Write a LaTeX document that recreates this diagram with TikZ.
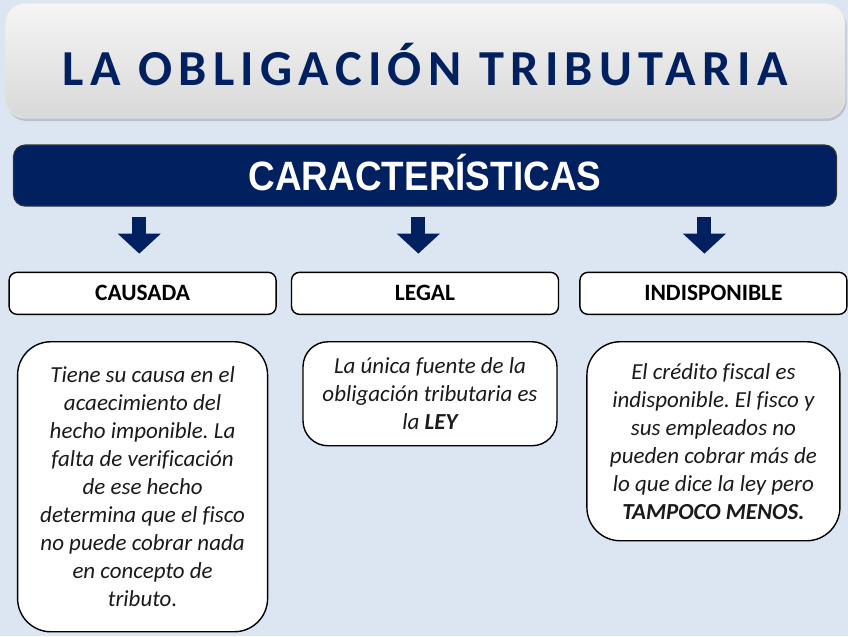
\documentclass[tikz,border=0pt]{standalone}
\usepackage{fontspec}
\setmainfont[Ligatures=NoCommon]{Carlito}
\newfontfamily\titlefont[LetterSpace=12.5]{Carlito}
\newfontfamily\headfont[FakeStretch=0.9]{Liberation Sans}
\usepackage{xcolor}
\usepackage{tikz}
\usetikzlibrary{arrows.meta, positioning, shadows}
\frenchspacing

\definecolor{navy}{HTML}{002060}
\definecolor{bgblue}{HTML}{DCE6F2}
\definecolor{txtgray}{HTML}{1A1A1A}

\begin{document}
\begin{tikzpicture}[
  every node/.style={font=\fontsize{19.6}{23.9}\selectfont\itshape, text=txtgray},
  titlebox/.style={rectangle, rounded corners=0.6cm, draw=gray!20, line width=0.8pt, top color=gray!8, bottom color=gray!30, minimum width=25.2cm, minimum height=3.45cm, drop shadow={shadow xshift=0.05cm, shadow yshift=-0.09cm, opacity=0.35}},
  titletxt/.style={font=\titlefont\bfseries\fontsize{43}{43}\selectfont, text=navy},
  headbox/.style={rectangle, rounded corners=0.35cm, draw=black!80, line width=1pt, fill=navy, minimum width=24.69cm, minimum height=1.83cm, text=white, font=\headfont\bfseries\fontsize{35}{35}\selectfont, text height=25.5pt, text depth=0pt},
  lbl/.style={rectangle, rounded corners=0.24cm, draw=black, line width=1.2pt, fill=white, minimum width=8.01cm, minimum height=1.26cm, text=black, font=\bfseries\fontsize{20}{20}\selectfont, text height=13pt, text depth=0pt},
  desc/.style={rectangle, rounded corners=1cm, draw=black, line width=1.2pt, fill=white, align=center},
  arr/.style={-{Triangle[length=0.6cm, width=1.26cm]}, line width=0.42cm, navy, shorten <=0.3cm, shorten >=0.54cm},
]

% Background
\path[use as bounding box, fill=bgblue] (0,0) rectangle (25.44,-19.08);

% Title
\node[titlebox] (title) at (12.75,-1.815) {};
\node[titletxt, anchor=base] (ttl) at (12.75,-2.55) {LA OBLIGACIÓN TRIBUTARIA};

% Characteristics bar
\node[headbox, below=0.78cm of title] (carac) {CARACTERÍSTICAS};

% Labels
\node[lbl, below=1.95cm of carac] (legal) {LEGAL};
\node[lbl, left=0.42cm of legal] (causada) {CAUSADA};
\node[lbl, right=0.6cm of legal] (indisp) {INDISPONIBLE};

% Descriptions
\node[desc, below=0.78cm of causada, minimum width=7.5cm, minimum height=8.7cm] (dcausada) {Tiene su causa en el\\acaecimiento del\\hecho imponible. La\\falta de verificación\\de ese hecho\\determina que el fisco\\no puede cobrar nada\\en concepto de\\tributo.};
\node[desc, below=0.78cm of legal, xshift=0.15cm, minimum width=7.62cm, minimum height=3.12cm, rounded corners=0.75cm] (dlegal) {La única fuente de la\\obligación tributaria es\\la \textbf{LEY}};
\node[desc, below=0.78cm of indisp, minimum width=7.59cm, minimum height=5.97cm] (dindisp) {El crédito fiscal es\\indisponible. El fisco y\\sus empleados no\\pueden cobrar más de\\lo que dice la ley pero\\\textbf{TAMPOCO MENOS.}};

% Arrows
\draw[arr] ([xshift=-0.1cm]causada.north |- carac.south) -- ([xshift=-0.1cm]causada.north);
\draw[arr] ([xshift=-0.2cm]legal.north |- carac.south) -- ([xshift=-0.2cm]legal.north);
\draw[arr] ([xshift=-0.27cm]indisp.north |- carac.south) -- ([xshift=-0.27cm]indisp.north);

\end{tikzpicture}
\end{document}
